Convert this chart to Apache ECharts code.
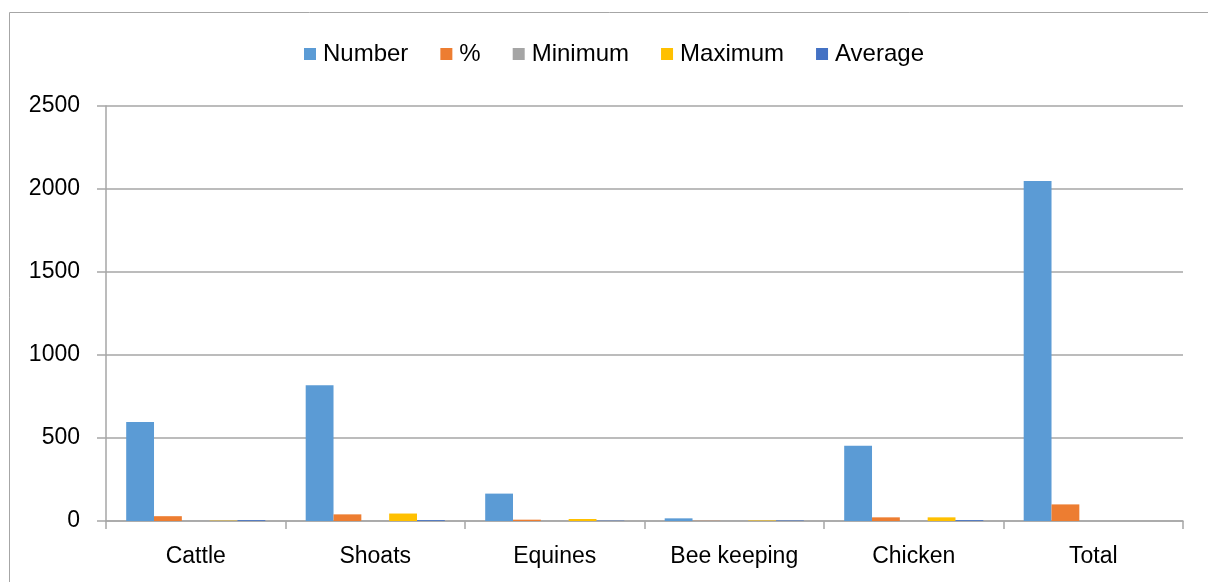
<!DOCTYPE html>
<html>
<head>
<meta charset="utf-8">
<script src="https://cdn.jsdelivr.net/npm/echarts@6/dist/echarts.min.js"></script>
<style>html,body{margin:0;padding:0;background:#fff}#c{width:1208px;height:582px}</style>
</head>
<body>
<div id="c"></div>
<script>
var categories = ['Cattle', 'Shoats', 'Equines', 'Bee keeping', 'Chicken', 'Total'];
var numberVals  = [596, 818, 165, 16, 453, 2048];
var percentVals = [29, 40, 8, 1, 22, 100];
var minimumVals = [1, 1, 1, 1, 1, null];
var maximumVals = [2, 45, 12, 3, 22, null];
var averageVals = [5, 5, 2, 3, 5, null];
var yTicks = [0, 500, 1000, 1500, 2000, 2500];

var seriesNames = ['Number', '%', 'Minimum', 'Maximum', 'Average'];
var seriesData = [numberVals, percentVals, minimumVals, maximumVals, averageVals];
var colors = ['#5B9BD5', '#ED7D31', '#A5A5A5', '#FFC000', '#4472C4'];
var font = '"Liberation Sans", Arial, sans-serif';

var chart = echarts.init(document.getElementById('c'), null, {renderer: 'canvas'});
chart.setOption({
  animation: false,
  color: colors,
  textStyle: {fontFamily: font},
  graphic: [{
    type: 'rect', silent: true, z: -1,
    shape: {x: 9.5, y: 12.5, width: 1300, height: 700},
    style: {fill: '#fff', stroke: '#A6A6A6', lineWidth: 1}
  }],
  legend: {
    top: 37, left: 299,
    icon: 'rect', itemWidth: 12, itemHeight: 12, itemGap: 32,
    textStyle: {fontSize: 24, color: '#000', fontFamily: font, padding: [0, 0, 0, 2]},
    data: seriesNames
  },
  grid: {left: 106, right: 25, top: 106, bottom: 61, containLabel: false},
  xAxis: {
    type: 'category', data: categories, boundaryGap: true,
    axisLine: {lineStyle: {color: '#A6A6A6', width: 1.5}},
    axisTick: {show: true, length: 8, lineStyle: {color: '#A6A6A6', width: 1.5}},
    axisLabel: {fontSize: 23, color: '#000', margin: 24, fontFamily: font}
  },
  yAxis: {
    type: 'value', min: yTicks[0], max: yTicks[yTicks.length - 1], interval: 500,
    axisLine: {show: true, lineStyle: {color: '#A6A6A6', width: 1.5}},
    axisTick: {show: true, length: 9, lineStyle: {color: '#A6A6A6', width: 1.5}},
    axisLabel: {fontSize: 23, color: '#000', margin: 26, fontFamily: font,
      formatter: function (v) { return String(v); }},
    splitLine: {lineStyle: {color: '#A6A6A6', width: 1.5}}
  },
  series: seriesNames.map(function (n, i) {
    return {
      name: n, type: 'bar', data: seriesData[i],
      barGap: '0%', barCategoryGap: '22.5%',
      itemStyle: {color: colors[i]}
    };
  })
});
</script>
</body>
</html>
